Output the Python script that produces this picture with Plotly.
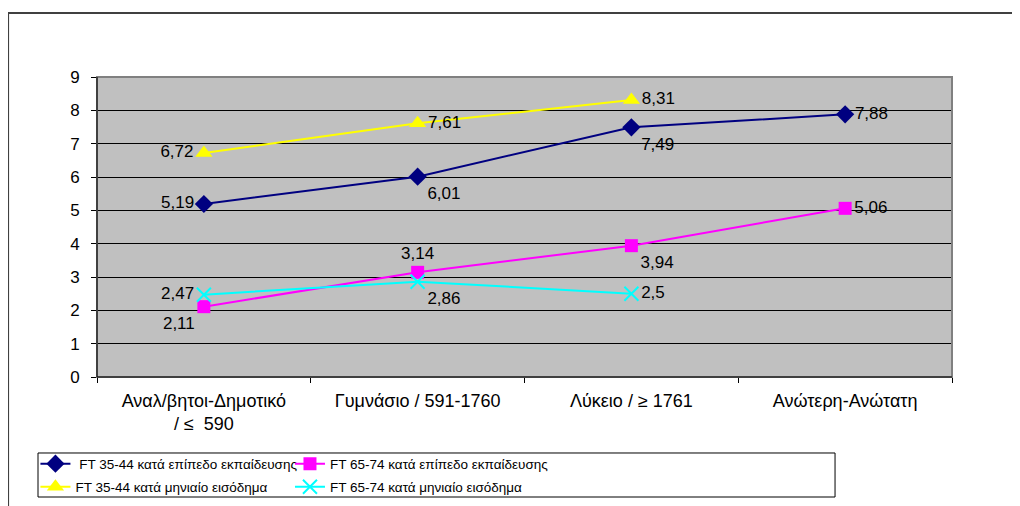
import plotly.graph_objects as go

categories = ["Αναλ/βητοι-Δημοτικό<br>/ ≤  590", "Γυμνάσιο / 591-1760", "Λύκειο / ≥ 1761", "Ανώτερη-Ανώτατη"]
ft3544_edu = [5.19, 6.01, 7.49, 7.88]
ft6574_edu = [2.11, 3.14, 3.94, 5.06]
ft3544_inc = [6.72, 7.61, 8.31, None]
ft6574_inc = [2.47, 2.86, 2.5, None]
y_ticks = [0, 1, 2, 3, 4, 5, 6, 7, 8, 9]

def lab(vals):
    return ["" if v is None else str(v).replace(".", ",") for v in vals]

FONT = "Liberation Sans, Arial, sans-serif"
LBL = dict(size=17, color="black", family=FONT)

fig = go.Figure()
fig.add_trace(go.Scatter(
    x=categories, y=ft3544_edu, mode="lines+markers+text", name=" FT 35-44 κατά επίπεδο εκπαίδευσης",
    line=dict(color="#000080", width=2), marker=dict(symbol="diamond", size=14, color="#000080"),
    text=lab(ft3544_edu), textposition=["middle left", "bottom right", "bottom right", "middle right"],
    textfont=LBL, legend="legend"))
fig.add_trace(go.Scatter(
    x=categories, y=ft6574_edu, mode="lines+markers+text", name="FT 65-74 κατά επίπεδο εκπαίδευσης",
    line=dict(color="#FF00FF", width=2), marker=dict(symbol="square", size=13, color="#FF00FF"),
    text=lab(ft6574_edu), textposition=["bottom left", "top center", "bottom right", "middle right"],
    textfont=LBL, legend="legend2"))
fig.add_trace(go.Scatter(
    x=categories, y=ft3544_inc, mode="lines+markers+text", name="FT 35-44 κατά μηνιαίο εισόδημα",
    line=dict(color="#FFFF00", width=2), marker=dict(symbol="triangle-up", size=15, color="#FFFF00"),
    text=lab(ft3544_inc), textposition=["middle left", "middle right", "middle right", "middle right"],
    textfont=LBL, legend="legend3"))
fig.add_trace(go.Scatter(
    x=categories, y=ft6574_inc, mode="lines+markers+text", name="FT 65-74 κατά μηνιαίο εισόδημα",
    line=dict(color="#00FFFF", width=2),
    marker=dict(symbol="x-thin", size=14, color="#00FFFF", line=dict(color="#00FFFF", width=2)),
    text=lab(ft6574_inc), textposition=["middle left", "bottom right", "middle right", "middle right"],
    textfont=LBL, legend="legend4"))

leg_common = dict(orientation="h", xanchor="left", yanchor="top", borderwidth=0,
                  bgcolor="rgba(0,0,0,0)", font=dict(size=13.5, family=FONT, color="black"),
                  itemwidth=30)

fig.update_layout(
    width=1012, height=498,
    margin=dict(l=89, r=68, t=69, b=129, autoexpand=False),
    paper_bgcolor="white", plot_bgcolor="#C0C0C0",
    font=dict(family=FONT, size=16, color="black"),
    showlegend=True,
    legend=dict(x=-0.072, y=-0.238, **leg_common),
    legend2=dict(x=0.2257, y=-0.238, **leg_common),
    legend3=dict(x=-0.072, y=-0.315, **leg_common),
    legend4=dict(x=0.2257, y=-0.315, **leg_common),
    shapes=[
        dict(type="rect", xref="paper", yref="paper", x0=0, x1=1, y0=0, y1=1,
             line=dict(color="#808080", width=2), layer="above"),
        dict(type="line", xref="paper", yref="paper", x0=0, x1=0, y0=0, y1=1,
             line=dict(color="black", width=1), layer="above"),
        dict(type="line", xref="paper", yref="paper", x0=0, x1=1, y0=0, y1=0,
             line=dict(color="black", width=1), layer="above"),
        dict(type="rect", xref="paper", yref="paper", x0=-0.069, x1=0.8632, y0=-0.2533, y1=-0.4,
             line=dict(color="black", width=1)),
        dict(type="rect", xref="paper", yref="paper", x0=-0.104, x1=1.2, y0=1.2133, y1=-0.6,
             line=dict(color="#404040", width=2)),
    ],
)
fig.update_yaxes(range=[0, 9], tickvals=y_ticks, ticks="outside", ticklen=5, tickcolor="black",
                 showline=True, linecolor="black", linewidth=1, gridcolor="black", gridwidth=1,
                 zeroline=False, tickfont=dict(size=17), ticklabelstandoff=8, automargin=False)
fig.update_xaxes(type="category", range=[-0.5, 3.5], tickson="boundaries", ticks="outside", ticklen=5,
                 tickcolor="black", showline=True, linecolor="black", linewidth=1, showgrid=False,
                 tickfont=dict(size=18), ticklabelstandoff=7, automargin=False)

fig.write_html("out.html")
